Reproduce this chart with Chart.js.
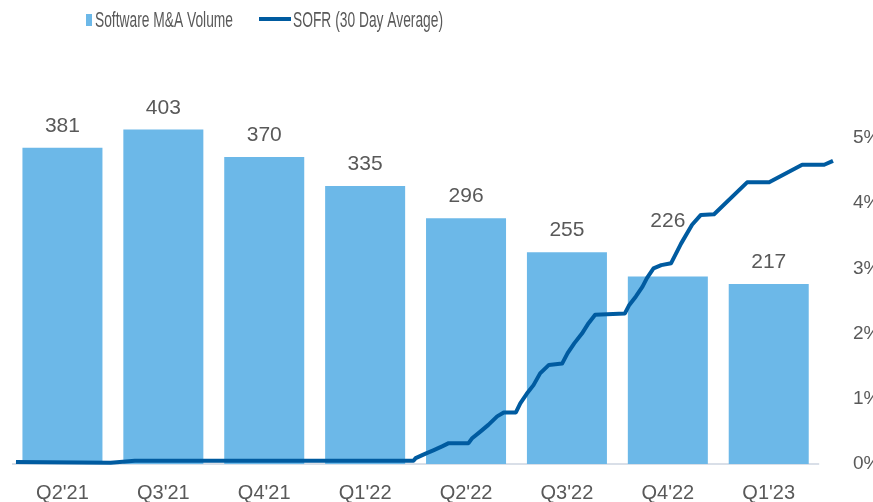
<!DOCTYPE html>
<html>
<head>
<meta charset="utf-8">
<script src="https://cdn.jsdelivr.net/npm/chart.js@4.4.1/dist/chart.umd.min.js"></script>
<style>
  html, body { margin: 0; padding: 0; background: #fff; overflow: hidden; }
  #wrap { width: 873px; height: 502px; position: relative; }
</style>
</head>
<body>
<div id="wrap"><canvas id="chart"></canvas></div>
<script>
// quarters + software M&A deal counts
const quarters = ["Q2'21", "Q3'21", "Q4'21", "Q1'22", "Q2'22", "Q3'22", "Q4'22", "Q1'23"];
const volume = [381, 403, 370, 335, 296, 255, 226, 217];

// SOFR 30 day average (%)
const sofrDates = [
  '2021-03-21', '2021-06-15', '2021-07-07', '2022-03-17', '2022-03-19', '2022-03-28',
  '2022-04-04', '2022-04-12', '2022-04-18', '2022-05-06', '2022-05-09', '2022-05-17',
  '2022-05-24', '2022-06-01', '2022-06-07', '2022-06-18', '2022-06-22', '2022-06-28',
  '2022-07-04', '2022-07-10', '2022-07-18', '2022-07-30', '2022-08-04', '2022-08-10',
  '2022-08-17', '2022-08-23', '2022-08-29', '2022-09-25', '2022-09-29', '2022-10-05',
  '2022-10-11', '2022-10-15', '2022-10-21', '2022-10-28', '2022-11-06', '2022-11-15',
  '2022-11-25', '2022-12-03', '2022-12-15', '2023-01-14', '2023-02-03', '2023-03-05',
  '2023-03-25', '2023-04-02'
];
const sofrRates = [
  0.03, 0.02, 0.05, 0.05, 0.09, 0.16,
  0.21, 0.27, 0.32, 0.32, 0.39, 0.50,
  0.60, 0.73, 0.79, 0.79, 0.93, 1.08,
  1.21, 1.39, 1.52, 1.54, 1.70, 1.85,
  2.00, 2.16, 2.29, 2.31, 2.44, 2.57,
  2.72, 2.85, 3.00, 3.05, 3.08, 3.38,
  3.67, 3.82, 3.83, 4.32, 4.32, 4.59,
  4.59, 4.65
];
const rateTicks = [0, 1, 2, 3, 4, 5];

const barColor = '#6CB8E8';
const lineColor = '#005BA0';
const textColor = '#595959';
const axisColor = '#D9DFE8';

function dayNum(s) {
  const p = s.split('-').map(Number);
  return Date.UTC(p[0], p[1] - 1, p[2]) / 86400000;
}
const sofrPoints = sofrDates.map((d, i) => ({ x: dayNum(d), y: sofrRates[i] }));
const barPoints = volume.map((v, i) => ({ x: i, y: v }));

// value labels over the bars + the category baseline
// (the Q4'22 label sits higher so the SOFR line doesn't run through it)
const labelGap = { default: 16, 6: 49 };
const barLabels = {
  id: 'barLabels',
  beforeDatasetsDraw(chart) {
    const ctx = chart.ctx, sx = chart.scales.x, y0 = chart.scales.y.getPixelForValue(0);
    ctx.save();
    ctx.strokeStyle = axisColor;
    ctx.lineWidth = 2;
    ctx.beginPath();
    ctx.moveTo(sx.getPixelForValue(-0.5), y0);
    ctx.lineTo(sx.getPixelForValue(quarters.length - 0.5), y0);
    ctx.stroke();
    ctx.restore();
  },
  afterDatasetsDraw(chart) {
    const ctx = chart.ctx;
    const meta = chart.getDatasetMeta(1);
    ctx.save();
    ctx.font = '21px "Liberation Sans", Arial, sans-serif';
    ctx.fillStyle = textColor;
    ctx.textAlign = 'center';
    ctx.textBaseline = 'alphabetic';
    meta.data.forEach((bar, i) => {
      const gap = labelGap[i] || labelGap.default;
      ctx.fillText(String(volume[i]), bar.x, bar.y - gap);
    });
    ctx.restore();
  }
};

// legend drawn by hand: small box for bars, short line for SOFR
const topLegend = {
  id: 'topLegend',
  afterDraw(chart) {
    const ctx = chart.ctx;
    ctx.save();
    ctx.font = '22px "Liberation Sans Narrow", "Liberation Sans", sans-serif';
    ctx.textBaseline = 'alphabetic';
    const t1 = chart.data.datasets[1].label;
    const t2 = chart.data.datasets[0].label;
    const sx = 138 / ctx.measureText(t1).width;

    ctx.fillStyle = barColor;
    ctx.fillRect(86, 14, 6, 12);
    ctx.fillStyle = textColor;
    ctx.save(); ctx.translate(95, 27); ctx.scale(sx, 1); ctx.fillText(t1, 0, 0); ctx.restore();

    ctx.strokeStyle = lineColor;
    ctx.lineWidth = 4;
    ctx.beginPath(); ctx.moveTo(259, 19); ctx.lineTo(291, 19); ctx.stroke();
    ctx.save(); ctx.translate(293, 27); ctx.scale(sx, 1); ctx.fillText(t2, 0, 0); ctx.restore();
    ctx.restore();
  }
};

new Chart(document.getElementById('chart'), {
  data: {
    labels: quarters,
    datasets: [{
      type: 'line',
      label: 'SOFR (30 Day Average)',
      data: sofrPoints,
      xAxisID: 'x2',
      yAxisID: 'y2',
      borderColor: lineColor,
      backgroundColor: lineColor,
      borderWidth: 4,
      borderJoinStyle: 'round',
      pointRadius: 0,
      tension: 0,
      clip: false,
      order: 0
    }, {
      type: 'bar',
      label: 'Software M&A Volume',
      data: barPoints,
      xAxisID: 'x',
      yAxisID: 'y',
      backgroundColor: barColor,
      grouped: false,
      categoryPercentage: 1,
      barPercentage: 0.793,
      order: 1
    }]
  },
  options: {
    responsive: true,
    maintainAspectRatio: false,
    animation: false,
    layout: { padding: { top: 49, left: 12, right: 0, bottom: 0 } },
    plugins: {
      legend: { display: false },
      tooltip: { enabled: false }
    },
    scales: {
      x: {
        type: 'linear',
        offset: false,
        min: -0.5,
        max: 7.637,
        grid: { display: false, drawTicks: false, offset: false },
        border: { display: false },
        afterBuildTicks: s => { s.ticks = quarters.map((q, i) => ({ value: i })); },
        ticks: {
          color: textColor,
          font: { family: '"Liberation Sans", Arial, sans-serif', size: 20 },
          padding: 17,
          maxRotation: 0,
          autoSkip: false,
          callback: v => quarters[v]
        },
        afterFit: s => { s.height = 38; }
      },
      x2: {
        type: 'linear',
        display: false,
        offset: false,
        min: dayNum('2021-03-21') - 3.6,
        max: dayNum('2023-04-02')
      },
      y: { display: false, min: 0, max: 500 },
      y2: {
        position: 'right',
        min: 0,
        max: 6.365,
        grid: { display: false, drawTicks: false },
        border: { display: false },
        afterBuildTicks: s => { s.ticks = rateTicks.map(v => ({ value: v })); },
        ticks: {
          color: textColor,
          font: { family: '"Liberation Sans", Arial, sans-serif', size: 19 },
          padding: 20,
          callback: v => v + '%'
        },
        afterFit: s => { s.width = 40; }
      }
    }
  },
  plugins: [barLabels, topLegend]
});
</script>
</body>
</html>
